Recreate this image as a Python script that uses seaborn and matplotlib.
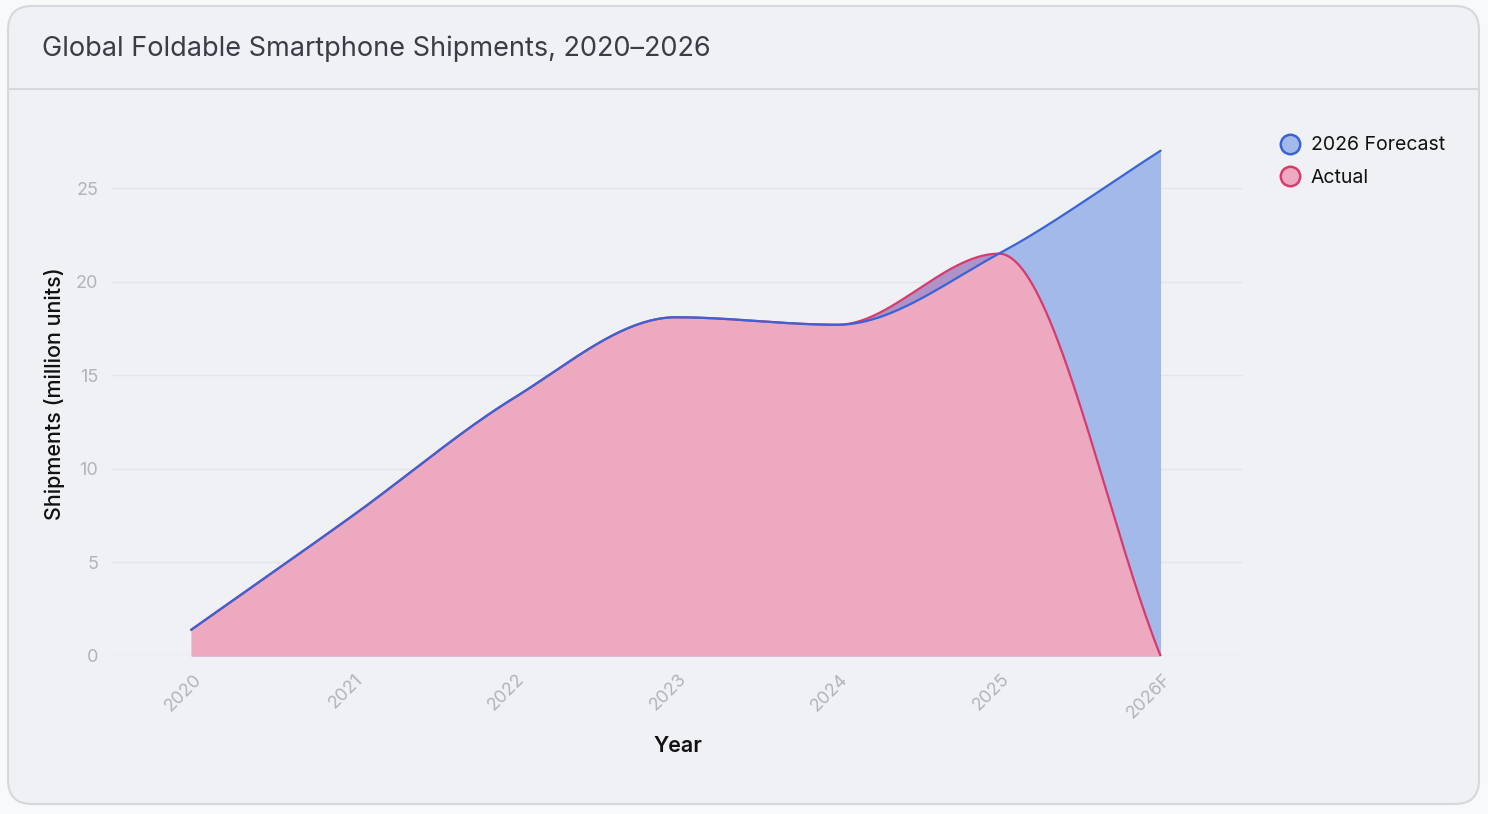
import numpy as np
import pandas as pd
import seaborn as sns
import matplotlib.pyplot as plt
import matplotlib.transforms as mtransforms
from matplotlib.patches import FancyBboxPatch
from matplotlib.lines import Line2D

years = ['2020', '2021', '2022', '2023', '2024', '2025', '2026F']
forecast = [1.4, 7.5, 13.8, 18.1, 17.7, 21.5, 27.0]
actual = [1.4, 7.5, 13.8, 18.1, 17.7, 21.5, 0.0]

blue_line = '#3A63D6'
blue_fill = '#A3B9EA'
pink_line = '#D83A6E'
pink_fill = '#ECA9C0'
mix_fill = '#AE93C9'


def monotone_curve(vals, steps=80):
    # monotone cubic interpolation (same idea as chart.js "monotone")
    y = np.asarray(vals, float)
    n = len(y)
    d = np.diff(y)
    m = np.zeros(n)
    m[0], m[-1] = d[0], d[-1]
    for i in range(1, n - 1):
        if d[i - 1] * d[i] > 0:
            m[i] = (d[i - 1] + d[i]) / 2
    for i in range(n - 1):
        if d[i] == 0:
            m[i] = m[i + 1] = 0
            continue
        a, b = m[i] / d[i], m[i + 1] / d[i]
        s = a * a + b * b
        if s > 9:
            t = 3 / np.sqrt(s)
            m[i], m[i + 1] = a * t * d[i], b * t * d[i]
    xs, ys = [], []
    for i in range(n - 1):
        t = np.linspace(0, 1, steps, endpoint=(i == n - 2))
        h00 = 2 * t**3 - 3 * t**2 + 1
        h10 = t**3 - 2 * t**2 + t
        h01 = -2 * t**3 + 3 * t**2
        h11 = t**3 - t**2
        xs.append(i + t)
        ys.append(h00 * y[i] + h10 * m[i] + h01 * y[i + 1] + h11 * m[i + 1])
    return np.concatenate(xs), np.concatenate(ys)


xs, fc_s = monotone_curve(forecast)
_, ac_s = monotone_curve(actual)
curves = pd.DataFrame({'x': xs, 'Forecast': fc_s, 'Actual': ac_s})

sns.set_theme(style='white')
plt.rcParams['font.family'] = ['Inter', 'DejaVu Sans']

W, H = 1488, 814
fig = plt.figure(figsize=(W / 100, H / 100), dpi=100)
fig.patch.set_facecolor('#F8F9FA')

# card behind everything
card = FancyBboxPatch((8, 10), 1471, 798, boxstyle='round,pad=0,rounding_size=24',
                      transform=mtransforms.IdentityTransform(),
                      facecolor='#F0F1F5', edgecolor='#D6D8DD', linewidth=1.5, zorder=-10)
fig.add_artist(card)
fig.add_artist(Line2D([9, 1478], [H - 89, H - 89], transform=mtransforms.IdentityTransform(),
                      color='#D6D8DD', linewidth=1.5, zorder=-9))
fig.text(42 / W, 1 - 49 / H, 'Global Foldable Smartphone Shipments, 2020\u20132026',
         ha='left', va='center', fontsize=19.5, color='#3A3D45')

ax = fig.add_axes([112 / W, 158 / H, 1131 / W, 524 / H])
ax.set_facecolor('none')

# areas
ax.fill_between(curves['x'], 0, curves['Forecast'], color=blue_fill, linewidth=0, zorder=1)
ax.fill_between(curves['x'], 0, np.minimum(curves['Actual'], curves['Forecast']),
                color=pink_fill, linewidth=0, zorder=2)
ax.fill_between(curves['x'], curves['Forecast'], curves['Actual'],
                where=curves['Actual'] > curves['Forecast'], interpolate=True,
                color=mix_fill, linewidth=0, zorder=2)

sns.lineplot(data=curves, x='x', y='Actual', color=pink_line, linewidth=1.6,
             sort=False, estimator=None, ax=ax, zorder=3)
sns.lineplot(data=curves, x='x', y='Forecast', color=blue_line, linewidth=1.6,
             sort=False, estimator=None, ax=ax, zorder=4)

ax.set_xlim(-0.49, 6.51)
ax.set_ylim(0, 28)
ax.set_yticks([0, 5, 10, 15, 20, 25])
ax.set_xticks(range(len(years)))
ax.set_xticklabels(years)
ax.yaxis.grid(True, color='#E3E4E9', linewidth=1)
ax.set_axisbelow(True)
for s in ax.spines.values():
    s.set_visible(False)

ax.tick_params(axis='y', length=0, pad=10, labelsize=13, labelcolor='#B2B4BB')
ax.tick_params(axis='x', length=0, pad=15, labelsize=13, labelcolor='#B2B4BB')
shift = mtransforms.ScaledTranslation(0.08, 0, fig.dpi_scale_trans)
for lab in ax.get_xticklabels():
    lab.set_rotation(45)
    lab.set_rotation_mode('anchor')
    lab.set_ha('right')
    lab.set_va('center')
    lab.set_transform(lab.get_transform() + shift)

ax.set_xlabel('Year', fontsize=15.5, fontweight='semibold', color='#111111')
ax.xaxis.set_label_coords(0.5, -0.153)
ax.set_ylabel('Shipments (million units)', fontsize=15.5, fontweight='medium', color='#111111')
ax.yaxis.set_label_coords(-0.0415, 0.5)

handles = [
    Line2D([], [], marker='o', linestyle='', markersize=14, markerfacecolor=blue_fill,
           markeredgecolor=blue_line, markeredgewidth=1.8),
    Line2D([], [], marker='o', linestyle='', markersize=14, markerfacecolor=pink_fill,
           markeredgecolor=pink_line, markeredgewidth=1.8),
]
fig.legend(handles, ['2026 Forecast', 'Actual'], loc='upper left',
           bbox_to_anchor=(1259 / W, 1 - 119 / H), frameon=False, fontsize=14,
           handletextpad=0.35, labelspacing=0.75, handlelength=1.4, labelcolor='#111111')

fig.savefig('out.png', dpi=100, facecolor=fig.get_facecolor())
